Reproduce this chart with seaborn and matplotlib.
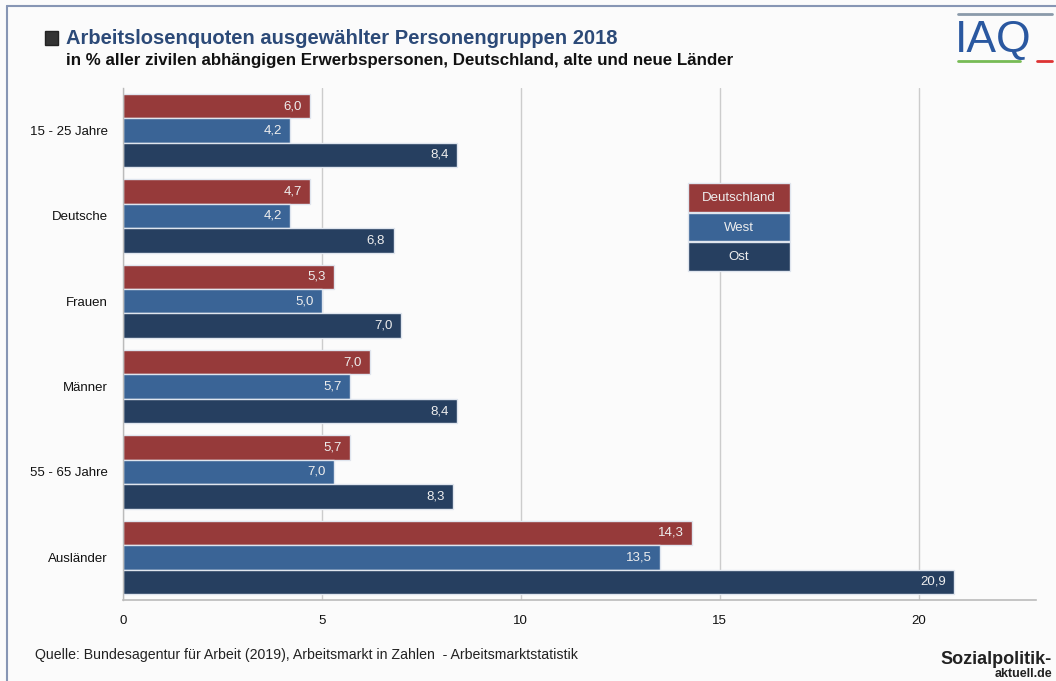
import matplotlib as mpl
import seaborn as sns
import pandas as pd
import matplotlib.pyplot as plt
from matplotlib.patches import Rectangle

sns.set_theme(style="white")
plt.rcParams['font.family'] = ['Liberation Sans', 'DejaVu Sans']

# data
groups = ["15 - 25 Jahre", "Deutsche", "Frauen", "Männer", "55 - 65 Jahre", "Ausländer"]
series = ["Deutschland", "West", "Ost"]
deutschland = [4.7, 4.7, 5.3, 6.2, 5.7, 14.3]
west = [4.2, 4.2, 5.0, 5.7, 5.3, 13.5]
ost = [8.4, 6.8, 7.0, 8.4, 8.3, 20.9]
# value labels as printed in the chart
lab_deutschland = ["6,0", "4,7", "5,3", "7,0", "5,7", "14,3"]
lab_west = ["4,2", "4,2", "5,0", "5,7", "7,0", "13,5"]
lab_ost = ["8,4", "6,8", "7,0", "8,4", "8,3", "20,9"]
xticks = [0, 5, 10, 15, 20]

colors = ["#963a3a", "#3a6496", "#263f60"]
bg = "#fbfbfb"

df = pd.DataFrame({
    "gruppe": groups * 3,
    "reihe": [s for s in series for _ in groups],
    "wert": deutschland + west + ost,
})

fig = plt.figure(figsize=(10.56, 6.81), dpi=100, facecolor=bg)
ax = fig.add_axes([0.1165, 0.119, 0.8645, 0.752], facecolor=bg)

sns.barplot(data=df, x="wert", y="gruppe", hue="reihe", order=groups,
            hue_order=series, palette=colors, orient="h", width=0.86,
            edgecolor="#dfe5ee", linewidth=1, saturation=1, legend=False,
            errorbar=None, ax=ax)

# value labels inside bars, right aligned near the bar end
for cont, labs in zip(ax.containers, [lab_deutschland, lab_west, lab_ost]):
    txts = ax.bar_label(cont, labels=labs, padding=-6, color="#eeeeee", fontsize=9.5)
    for t in txts:
        t.set_horizontalalignment("right")

ax.set_xlim(0, 22.95)
ax.set_ylim(5.5, -0.5)
ax.set_xticks(xticks)
ax.set_xticklabels([str(v) for v in xticks])
ax.grid(axis="x", color="#cccccc", linewidth=1)
ax.set_axisbelow(True)
ax.set_xlabel("")
ax.set_ylabel("")
for s in ["top", "right"]:
    ax.spines[s].set_visible(False)
ax.spines["left"].set_color("#bbbbbb")
ax.spines["bottom"].set_color("#bbbbbb")
ax.spines["left"].set_linewidth(1)
ax.spines["bottom"].set_linewidth(1.2)
ax.tick_params(axis="x", direction="inout", length=8, color="#bbbbbb",
               labelsize=9.5, labelcolor="#111111", pad=7)
ax.tick_params(axis="y", length=0, labelsize=9.5, labelcolor="#111111", pad=11)
ax.set_yticks([i + 0.5 for i in range(-1, 6)], minor=True)
ax.tick_params(axis="y", which="minor", length=5, color="#bbbbbb", direction="out")

# legend boxes
W, H = 1056, 681
for i, (name, c) in enumerate(zip(series, colors)):
    y0 = 183 + i * 29.5
    fig.patches.append(Rectangle((688 / W, 1 - (y0 + 28.5) / H), 102 / W, 28.5 / H,
                                 transform=fig.transFigure, facecolor=c,
                                 edgecolor="#dfe5ee", linewidth=1))
    fig.text(739 / W, 1 - (y0 + 15) / H, name, color="#eeeeee", fontsize=9.5,
             ha="center", va="center")

# title
fig.patches.append(Rectangle((45 / W, 1 - 45 / H), 13 / W, 14 / H,
                             transform=fig.transFigure, facecolor="#333333",
                             edgecolor="#222222"))
fig.text(66 / W, 1 - 39 / H, "Arbeitslosenquoten ausgewählter Personengruppen 2018",
         fontsize=14.5, fontweight="bold", color="#2c4a78", va="center")
fig.text(66 / W, 1 - 61 / H,
         "in % aller zivilen abhängigen Erwerbspersonen, Deutschland, alte und neue Länder",
         fontsize=12.2, fontweight="bold", color="#111111", va="center")

# source
fig.text(35 / W, 1 - 655 / H,
         "Quelle: Bundesagentur für Arbeit (2019), Arbeitsmarkt in Zahlen  - Arbeitsmarktstatistik",
         fontsize=10.2, color="#222222", va="center")

# IAQ logo
fig.text(955 / W, 1 - 40 / H, "IAQ", fontsize=32, color="#2a58a0", va="center")
fig.lines.append(plt.Line2D([958 / W, 1052 / W], [1 - 14 / H, 1 - 14 / H],
                            transform=fig.transFigure, color="#8a9aaa", lw=2))
fig.lines.append(plt.Line2D([958 / W, 1020 / W], [1 - 61 / H, 1 - 61 / H],
                            transform=fig.transFigure, color="#77bb55", lw=2))
fig.lines.append(plt.Line2D([1037 / W, 1052 / W], [1 - 61 / H, 1 - 61 / H],
                            transform=fig.transFigure, color="#dd3333", lw=2))

# sozialpolitik logo
fig.text(1052 / W, 1 - 659 / H, "Sozialpolitik-", fontsize=13, fontweight="bold",
         color="#222222", ha="right", va="center")
fig.text(1052 / W, 1 - 674 / H, "aktuell.de", fontsize=9, fontweight="bold",
         color="#222222", ha="right", va="center")

# frame
fig.lines.append(plt.Line2D([7 / W, 7 / W], [0, 1 - 6 / H],
                            transform=fig.transFigure, color="#8796b4", lw=1.5))
fig.lines.append(plt.Line2D([7 / W, 1], [1 - 6 / H, 1 - 6 / H],
                            transform=fig.transFigure, color="#8796b4", lw=1.5))

fig.savefig("out.png", dpi=100, facecolor=bg)
